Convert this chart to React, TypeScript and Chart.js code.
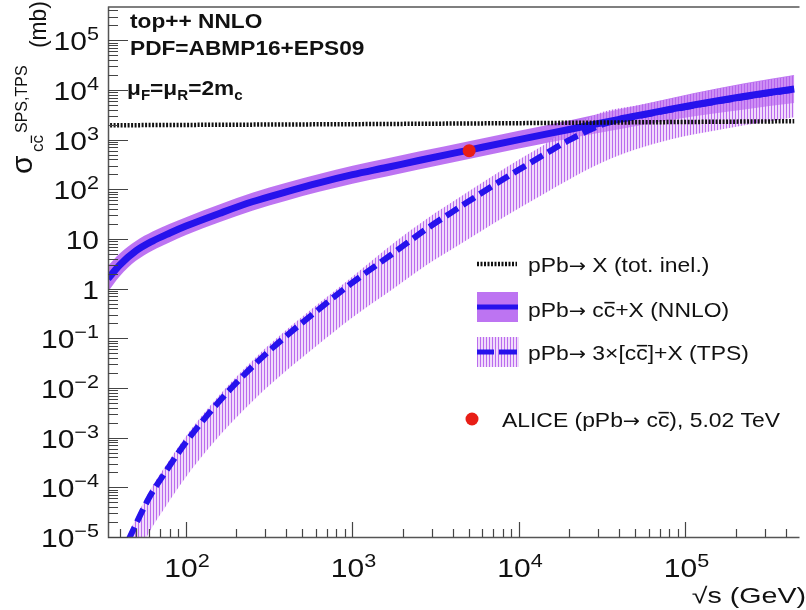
import React, { useEffect, useRef } from 'react';
import { Chart, registerables } from 'chart.js';

Chart.register(...registerables);

// ---- data (sqrt(s) in GeV, cross sections in mb) ----
const nnloEnergy = [34, 40, 50, 63, 80, 100, 160, 250, 400, 630, 1000, 1600, 2500, 5000, 10000, 20000, 40000, 80000, 160000, 320000, 450000];
const nnloCentral = [1.58, 3.0, 5.75, 9.1, 13.2, 18.2, 33.1, 56.2, 89.1, 135, 197, 275, 380, 617, 1000, 1603, 2570, 4074, 6166, 8913, 10470];
const nnloUpper = [2.88, 5.13, 9.12, 14.1, 20.2, 27.5, 50.1, 85.1, 135, 204, 298, 417, 575, 933, 1514, 2427, 4074, 6761, 10965, 16596, 19953];
const nnloLower = [0.87, 1.78, 3.63, 5.89, 8.61, 12.0, 21.9, 37.2, 58.9, 89.1, 130, 182, 251, 407, 661, 1059, 1622, 2455, 3467, 4786, 5495];

const tpsEnergy = [40, 46, 60, 76, 100, 138, 186, 263, 398, 620, 980, 1800, 2800, 4400, 7100, 11000, 14500, 20000, 32000, 50000, 80000, 160000, 320000, 450000];
const tpsCentral = [3.8e-6, 1.0e-5, 6.17e-5, 2.14e-4, 8.13e-4, 3.16e-3, 9.77e-3, 3.16e-2, 0.11, 0.372, 1.26, 5.5, 16.2, 43.7, 123, 302, 525, 977, 2042, 2900, 3950, 5980, 8650, 10150];
const tpsUpper = [5.01e-6, 1.32e-5, 8.13e-5, 2.82e-4, 1.07e-3, 4.17e-3, 1.29e-2, 4.17e-2, 0.145, 0.49, 1.66, 8.71, 25.7, 69.2, 195, 479, 832, 1738, 3631, 4800, 6600, 10700, 16000, 19500];
const tpsLower = [7.59e-7, 2.0e-6, 1.23e-5, 4.27e-5, 1.62e-4, 6.31e-4, 1.95e-3, 6.31e-3, 2.19e-2, 7.41e-2, 0.251, 1.05, 3.02, 7.76, 20.9, 50.1, 85.1, 158, 355, 631, 1000, 1585, 2344, 2818];

const inelEnergy = [35, 1000, 10000, 100000, 450000];
const inelXsec = [1950, 2050, 2150, 2270, 2350];

const aliceEnergy = [5020];
const aliceXsec = [600];

const yExponents = [-5, -4, -3, -2, -1, 0, 1, 2, 3, 4, 5];
const xExponents = [2, 3, 4, 5];

const legendLabels = {
  inel: ['pPb\u2192 X (tot. inel.)'],
  nnlo: ['pPb\u2192 c', 'c', '+X (NNLO)'],
  tps: ['pPb\u2192 3\u00d7[c', 'c', ']+X (TPS)'],
  alice: ['ALICE (pPb\u2192 c', 'c', '), 5.02 TeV'],
};

const X_MIN = 34;
const X_MAX = 484000;
const Y_MIN = 1e-5;
const Y_MAX = 4.8e5;

const FONT = '"Liberation Sans", Arial, Helvetica, sans-serif';
const ARROW_FONT = '"DejaVu Sans", sans-serif';
const BLUE = 'rgb(38, 18, 236)';
const VIOLET = 'rgba(178, 92, 240, 0.85)';

type Seg = { t: string; size: number; bold?: boolean; dy?: number; bar?: boolean; fam?: string };

function fontOf(s: Seg) {
  return `${s.bold ? 'bold ' : ''}${s.size}px ${s.fam || FONT}`;
}

function expandArrows(segs: Seg[]): Seg[] {
  const out: Seg[] = [];
  segs.forEach((s) => {
    const parts = s.t.split('\u2192');
    parts.forEach((p, i) => {
      if (i > 0) out.push({ ...s, t: '\u2192', fam: ARROW_FONT, bar: false, size: s.size * 0.9 });
      if (p.length) out.push({ ...s, t: p });
    });
  });
  return out;
}

function drawRich(ctx: CanvasRenderingContext2D, x: number, y: number, segsIn: Seg[], align: 'left' | 'right' | 'center', sx = 1, color = '#111') {
  const segs = expandArrows(segsIn);
  const widths = segs.map((s) => {
    ctx.font = fontOf(s);
    return ctx.measureText(s.t).width * sx;
  });
  const total = widths.reduce((a, b) => a + b, 0);
  let cx = align === 'left' ? x : align === 'right' ? x - total : x - total / 2;
  segs.forEach((s, i) => {
    ctx.save();
    ctx.font = fontOf(s);
    ctx.fillStyle = color;
    ctx.textAlign = 'left';
    ctx.textBaseline = 'alphabetic';
    ctx.translate(cx, y + (s.dy || 0));
    ctx.scale(sx, 1);
    ctx.fillText(s.t, 0, 0);
    if (s.bar) {
      const w = ctx.measureText(s.t).width;
      ctx.fillRect(0.5, -s.size * 0.72, w - 1, Math.max(1.3, s.size * 0.075));
    }
    ctx.restore();
    cx += widths[i];
  });
}

function makeHatch(ctx: CanvasRenderingContext2D) {
  const pc = document.createElement('canvas');
  pc.width = 3;
  pc.height = 3;
  const p = pc.getContext('2d')!;
  p.fillStyle = 'rgba(225, 175, 246, 0.45)';
  p.fillRect(0, 0, 3, 3);
  p.fillStyle = 'rgba(180, 95, 236, 0.9)';
  p.fillRect(0, 0, 1, 3);
  return ctx.createPattern(pc, 'repeat')!;
}

function supLabel(e: number): Seg[] {
  if (e === 0) return [{ t: '1', size: 25 }];
  if (e === 1) return [{ t: '10', size: 25 }];
  const ex = e < 0 ? '\u2212' + String(-e) : String(e);
  return [{ t: '10', size: 25 }, { t: ex, size: 18, dy: -10 }];
}

const decorPlugin = {
  id: 'decor',
  afterDraw(chart: any, _args: any, opts: any) {
    const ctx: CanvasRenderingContext2D = chart.ctx;
    const { left, right, top, bottom } = chart.chartArea;
    const xs = chart.scales.x;
    const ys = chart.scales.y;
    const hatch = opts.hatch as CanvasPattern;
    ctx.save();

    // frame
    ctx.strokeStyle = '#555';
    ctx.lineWidth = 1.5;
    ctx.beginPath();
    ctx.moveTo(left + 0.5, top);
    ctx.lineTo(left + 0.5, bottom + 0.5);
    ctx.lineTo(right, bottom + 0.5);
    ctx.moveTo(left, top + 0.5);
    ctx.lineTo(right, top + 0.5);
    ctx.stroke();

    // y ticks
    ctx.strokeStyle = '#444';
    ctx.lineWidth = 1.2;
    ctx.beginPath();
    for (let e = -6; e <= 6; e++) {
      for (let m = 1; m <= 9; m++) {
        const v = m * Math.pow(10, e);
        if (v < Y_MIN || v > Y_MAX) continue;
        const py = Math.round(ys.getPixelForValue(v)) + 0.5;
        const len = m === 1 ? 20 : 10;
        ctx.moveTo(left, py);
        ctx.lineTo(left + len, py);
      }
    }
    // x ticks
    for (let e = 1; e <= 6; e++) {
      for (let m = 1; m <= 9; m++) {
        const v = m * Math.pow(10, e);
        if (v < X_MIN || v > X_MAX) continue;
        const px = Math.round(xs.getPixelForValue(v)) + 0.5;
        const len = m === 1 ? 15 : 8;
        ctx.moveTo(px, bottom);
        ctx.lineTo(px, bottom - len);
      }
    }
    ctx.stroke();

    // y tick labels
    yExponents.forEach((e) => {
      const py = ys.getPixelForValue(Math.pow(10, e));
      drawRich(ctx, 99, py + 10, supLabel(e), 'right', 1.2);
    });
    // x tick labels
    xExponents.forEach((e) => {
      const px = xs.getPixelForValue(Math.pow(10, e));
      drawRich(ctx, px + 1, 577, supLabel(e), 'center', 1.2);
    });

    // x title
    drawRich(ctx, 806, 603, [{ t: '\u221as (GeV)', size: 22 }], 'right', 1.3);

    // y title (rotated)
    ctx.save();
    ctx.rotate(-Math.PI / 2);
    drawRich(ctx, -174, 32, [{ t: '\u03c3', size: 30 }], 'left', 1);
    drawRich(ctx, -152, 43, [{ t: 'c', size: 17 }, { t: 'c', size: 17, bar: true }], 'left', 1);
    drawRich(ctx, -133, 27, [{ t: 'SPS,TPS', size: 16 }], 'left', 1);
    drawRich(ctx, -48, 46, [{ t: '(mb)', size: 24 }], 'left', 0.95);
    ctx.restore();

    // top-left annotations
    drawRich(ctx, 130, 28, [{ t: 'top++ NNLO', size: 21, bold: true }], 'left', 1.08);
    drawRich(ctx, 130, 55, [{ t: 'PDF=ABMP16+EPS09', size: 21, bold: true }], 'left', 1.08);
    drawRich(ctx, 127, 95, [
      { t: '\u03bc', size: 21, bold: true },
      { t: 'F', size: 14, bold: true, dy: 5 },
      { t: '=\u03bc', size: 21, bold: true },
      { t: 'R', size: 14, bold: true, dy: 5 },
      { t: '=2m', size: 21, bold: true },
      { t: 'c', size: 14, bold: true, dy: 5 },
    ], 'left', 1.08);

    // legend row 1: dotted
    ctx.strokeStyle = '#111';
    ctx.lineWidth = 4.5;
    ctx.setLineDash([2, 1.5]);
    ctx.beginPath();
    ctx.moveTo(477, 264);
    ctx.lineTo(517, 264);
    ctx.stroke();
    ctx.setLineDash([]);
    drawRich(ctx, 528, 272, [{ t: legendLabels.inel[0], size: 21 }], 'left', 1.09);

    // row 2: NNLO box
    ctx.fillStyle = VIOLET;
    ctx.fillRect(477, 292, 41, 30);
    ctx.strokeStyle = BLUE;
    ctx.lineWidth = 5;
    ctx.beginPath();
    ctx.moveTo(477, 307);
    ctx.lineTo(518, 307);
    ctx.stroke();
    drawRich(ctx, 528, 317, [
      { t: legendLabels.nnlo[0], size: 21 },
      { t: legendLabels.nnlo[1], size: 21, bar: true },
      { t: legendLabels.nnlo[2], size: 21 },
    ], 'left', 1.09);

    // row 3: TPS hatch
    ctx.fillStyle = hatch;
    ctx.fillRect(477, 337, 42, 30);
    ctx.strokeStyle = BLUE;
    ctx.lineWidth = 5;
    ctx.beginPath();
    ctx.moveTo(477, 352);
    ctx.lineTo(494, 352);
    ctx.moveTo(499, 352);
    ctx.lineTo(517, 352);
    ctx.stroke();
    drawRich(ctx, 528, 360, [
      { t: legendLabels.tps[0], size: 21 },
      { t: legendLabels.tps[1], size: 21, bar: true },
      { t: legendLabels.tps[2], size: 21 },
    ], 'left', 1.09);

    // row 4: ALICE
    ctx.fillStyle = 'rgb(232, 30, 22)';
    ctx.beginPath();
    ctx.arc(472, 419, 6.5, 0, Math.PI * 2);
    ctx.fill();
    drawRich(ctx, 502, 427, [
      { t: legendLabels.alice[0], size: 21 },
      { t: legendLabels.alice[1], size: 21, bar: true },
      { t: legendLabels.alice[2], size: 21 },
    ], 'left', 1.09);

    ctx.restore();
  },
};

function pts(xs: number[], ys: number[]) {
  return xs.map((x, i) => ({ x, y: ys[i] }));
}

export default function App() {
  const ref = useRef<HTMLCanvasElement | null>(null);
  useEffect(() => {
    const canvas = ref.current!;
    const ctx = canvas.getContext('2d')!;
    const hatch = makeHatch(ctx);
    const chart = new Chart(ctx, {
      type: 'line',
      data: {
        datasets: [
          {
            label: 'ALICE',
            data: pts(aliceEnergy, aliceXsec),
            showLine: false,
            pointRadius: 6.5,
            pointBackgroundColor: 'rgb(232, 30, 22)',
            pointBorderWidth: 0,
            pointBorderColor: 'rgb(232, 30, 22)',
          },
          {
            label: 'inel',
            data: pts(inelEnergy, inelXsec),
            borderColor: '#111',
            borderWidth: 4.5,
            borderDash: [2, 1.5],
            pointRadius: 0,
            fill: false,
          },
          {
            label: 'NNLO',
            data: pts(nnloEnergy, nnloCentral),
            borderColor: BLUE,
            borderWidth: 7,
            pointRadius: 0,
            cubicInterpolationMode: 'monotone',
            fill: false,
          },
          {
            label: 'TPS',
            data: pts(tpsEnergy, tpsCentral),
            borderColor: BLUE,
            borderWidth: 6,
            borderDash: [14, 6],
            pointRadius: 0,
            cubicInterpolationMode: 'monotone',
            fill: false,
          },
          {
            label: 'TPS upper',
            data: pts(tpsEnergy, tpsUpper),
            borderWidth: 0,
            borderColor: 'rgba(0,0,0,0)',
            pointRadius: 0,
            cubicInterpolationMode: 'monotone',
            fill: false,
          },
          {
            label: 'TPS lower',
            data: pts(tpsEnergy, tpsLower),
            borderWidth: 0,
            borderColor: 'rgba(0,0,0,0)',
            backgroundColor: hatch as any,
            pointRadius: 0,
            cubicInterpolationMode: 'monotone',
            fill: 4,
          },
          {
            label: 'NNLO upper',
            data: pts(nnloEnergy, nnloUpper),
            borderWidth: 0,
            borderColor: 'rgba(0,0,0,0)',
            pointRadius: 0,
            cubicInterpolationMode: 'monotone',
            fill: false,
          },
          {
            label: 'NNLO lower',
            data: pts(nnloEnergy, nnloLower),
            borderWidth: 0,
            borderColor: 'rgba(0,0,0,0)',
            backgroundColor: VIOLET,
            pointRadius: 0,
            cubicInterpolationMode: 'monotone',
            fill: 6,
          },
        ],
      },
      options: {
        animation: false,
        responsive: false,
        devicePixelRatio: 1,
        layout: { padding: { top: 5, left: 0, right: 0, bottom: 0 } },
        plugins: {
          legend: { display: false },
          tooltip: { enabled: false },
          decor: { hatch },
        } as any,
        scales: {
          x: {
            type: 'logarithmic',
            min: X_MIN,
            max: X_MAX,
            grid: { display: false },
            border: { display: false },
            ticks: { display: false },
            afterFit: (s: any) => {
              s.height = 73;
            },
          },
          y: {
            type: 'logarithmic',
            min: Y_MIN,
            max: Y_MAX,
            grid: { display: false },
            border: { display: false },
            ticks: { display: false },
            afterFit: (s: any) => {
              s.width = 108;
            },
          },
        },
      },
      plugins: [decorPlugin],
    } as any);
    return () => chart.destroy();
  }, []);
  return (
    <div style={{ position: 'fixed', left: 0, top: 0, width: 806, height: 610, background: '#fff' }}>
      <canvas ref={ref} width={806} height={610} style={{ display: 'block', width: 806, height: 610 }} />
    </div>
  );
}
